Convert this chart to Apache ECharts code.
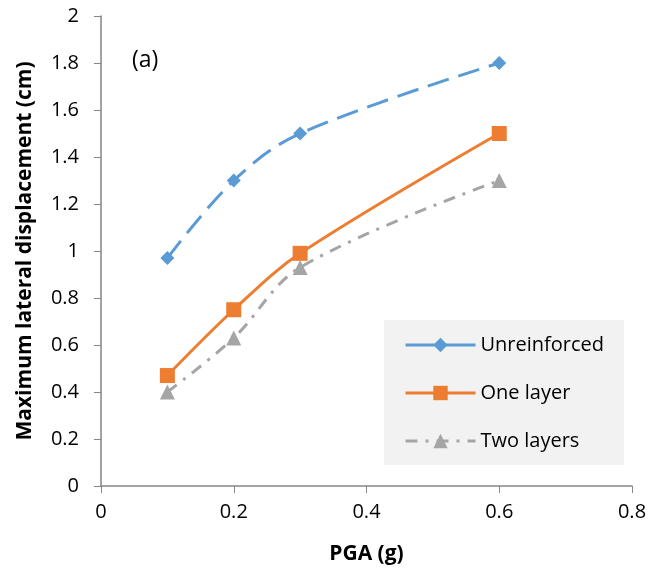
<!DOCTYPE html>
<html>
<head>
<meta charset="utf-8">
<script src="https://cdn.jsdelivr.net/npm/echarts@6/dist/echarts.min.js"></script>
<style>
html, body { margin: 0; padding: 0; background: #fff; }
#main { width: 652px; height: 576px; }
</style>
</head>
<body>
<div id="main"></div>
<script>
// values
var pga = [0.1, 0.2, 0.3, 0.6];
var unreinforced = [0.97, 1.3, 1.5, 1.8];
var oneLayer = [0.47, 0.75, 0.99, 1.5];
var twoLayers = [0.40, 0.63, 0.93, 1.3];

function pairs(xs, ys) {
    return xs.map(function (x, i) { return [x, ys[i]]; });
}

var font = '"Open Sans", sans-serif';
var chart = echarts.init(document.getElementById('main'));

var option = {
    backgroundColor: '#ffffff',
    textStyle: { fontFamily: font },
    grid: { left: 101, right: 20, top: 16, bottom: 90 },
    title: {
        text: '(a)',
        left: 127, top: 44,
        textStyle: { fontFamily: font, fontSize: 23, fontWeight: 'normal', color: '#000' }
    },
    legend: {
        orient: 'vertical',
        left: 384, top: 320,
        width: 243,
        padding: [15, 20, 14, 20],
        backgroundColor: '#f2f2f2',
        itemWidth: 70, itemHeight: 18,
        itemGap: 28,
        lineStyle: { width: 3 },
        textStyle: { fontFamily: font, fontSize: 20, color: '#000' },
        data: [
            { name: 'Unreinforced', lineStyle: { type: 'solid', width: 3 } },
            { name: 'One layer' },
            { name: 'Two layers' }
        ]
    },
    xAxis: {
        type: 'value',
        min: 0, max: 0.8, interval: 0.2,
        name: 'PGA (g)',
        nameLocation: 'middle',
        nameGap: 58,
        nameTextStyle: { fontFamily: font, fontSize: 21, fontWeight: 'bold', color: '#000' },
        axisLine: { show: true, lineStyle: { color: '#868686', width: 1.5 } },
        axisTick: { show: true, length: 7, lineStyle: { color: '#868686' } },
        axisLabel: { fontFamily: font, fontSize: 20, color: '#000', margin: 16 },
        splitLine: { show: false }
    },
    yAxis: {
        type: 'value',
        min: 0, max: 2, interval: 0.2,
        name: 'Maximum lateral displacement (cm)',
        nameLocation: 'middle',
        nameGap: 65,
        nameTextStyle: { fontFamily: font, fontSize: 21, fontWeight: 'bold', color: '#000' },
        axisLine: { show: true, lineStyle: { color: '#868686', width: 1.5 } },
        axisTick: { show: true, length: 7, lineStyle: { color: '#868686' } },
        axisLabel: { fontFamily: font, fontSize: 20, color: '#000', margin: 22 },
        splitLine: { show: false }
    },
    series: [
        {
            name: 'Unreinforced',
            type: 'line',
            smooth: 0.35,
            data: pairs(pga, unreinforced),
            symbol: 'diamond',
            symbolSize: 14,
            color: '#5b9bd5',
            lineStyle: { width: 3, type: [22, 10], color: '#5b9bd5' },
            itemStyle: { color: '#5b9bd5' }
        },
        {
            name: 'One layer',
            type: 'line',
            smooth: 0.35,
            data: pairs(pga, oneLayer),
            symbol: 'rect',
            symbolSize: 15,
            color: '#ed7d31',
            lineStyle: { width: 3, color: '#ed7d31' },
            itemStyle: { color: '#ed7d31' }
        },
        {
            name: 'Two layers',
            type: 'line',
            smooth: 0.35,
            data: pairs(pga, twoLayers),
            symbol: 'triangle',
            symbolSize: 15,
            color: '#a5a5a5',
            lineStyle: { width: 3, type: [12, 8, 3, 8], color: '#a5a5a5' },
            itemStyle: { color: '#a5a5a5' }
        }
    ]
};

chart.setOption(option);
</script>
</body>
</html>
